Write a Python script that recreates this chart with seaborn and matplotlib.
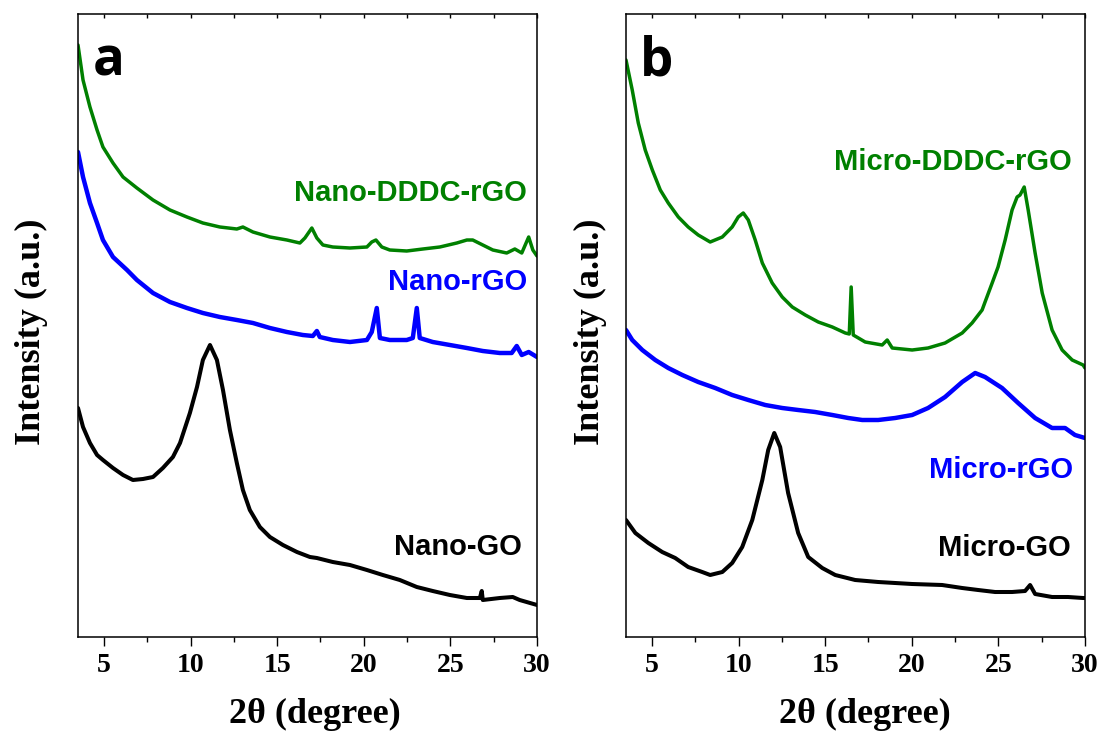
import numpy as np
import pandas as pd
import matplotlib
matplotlib.use("Agg")
import matplotlib.pyplot as plt
import seaborn as sns
from matplotlib.ticker import MultipleLocator

# ---------------- data ----------------
# Panel a
nano_dddc_x = [3.5, 3.79, 4.19, 4.60, 4.94, 5.52, 6.10, 6.90, 7.83, 8.81, 9.79, 10.71, 11.69, 12.67,
               13.02, 13.60, 14.58, 15.56, 16.31, 16.60, 17.00, 17.29, 17.64, 18.21, 19.20, 20.18,
               20.46, 20.70, 21.04, 21.50, 22.48, 23.41, 24.39, 25.37, 25.95, 26.29, 26.87, 27.45,
               28.25, 28.72, 29.12, 29.52, 29.76, 30.0]
nano_dddc_y = [592, 557, 530, 507, 490, 474, 460, 449, 437, 427, 420, 414, 410, 408,
               410, 405, 400, 397, 394, 399, 409, 399, 392, 390, 389, 390,
               395, 397, 390, 387, 386, 388, 390, 394, 397, 397, 392, 387,
               384, 388, 384, 400, 387, 381]

nano_rgo_x = [3.5, 3.79, 4.19, 4.60, 4.94, 5.52, 6.33, 6.90, 7.83, 8.81, 9.79, 10.71, 11.69, 12.67,
              13.60, 14.58, 15.56, 16.48, 17.06, 17.29, 17.46, 18.21, 19.20, 20.18, 20.46, 20.75,
              20.93, 21.50, 22.48, 22.83, 23.06, 23.23, 23.98, 24.97, 25.95, 26.87, 27.85, 28.54,
              28.83, 29.12, 29.52, 30.0]
nano_rgo_y = [485, 460, 434, 414, 397, 380, 367, 357, 344, 335, 329, 324, 320, 317,
              314, 309, 305, 302, 301, 306, 300, 297, 295, 297, 305, 329,
              299, 297, 297, 299, 329, 299, 295, 292, 289, 286, 284, 284,
              291, 282, 285, 280]

nano_go_x = [3.5, 3.79, 4.19, 4.60, 4.94, 5.52, 6.10, 6.67, 7.25, 7.83, 8.40, 8.98, 9.39, 9.96,
             10.37, 10.71, 11.12, 11.52, 11.87, 12.27, 12.67, 13.02, 13.42, 14.00, 14.58, 15.33,
             16.14, 16.89, 17.29, 18.21, 19.20, 20.18, 21.10, 22.08, 23.06, 23.98, 24.97, 25.95,
             26.70, 26.81, 26.87, 27.85, 28.60, 29.00, 30.0]
nano_go_y = [229, 210, 194, 182, 177, 169, 162, 157, 158, 160, 169, 180, 194, 224,
             250, 277, 292, 277, 247, 207, 174, 147, 127, 110, 100, 92,
             85, 80, 79, 75, 72, 67, 62, 57, 50, 46, 42, 39,
             39, 46, 37, 39, 40, 37, 32]

# Panel b
micro_dddc_x = [3.5, 3.86, 4.21, 4.61, 5.02, 5.48, 5.94, 6.52, 7.09, 7.67, 8.36, 9.06, 9.63, 9.98,
                10.27, 10.56, 10.96, 11.37, 11.94, 12.52, 13.10, 13.85, 14.60, 15.41, 16.16, 16.39,
                16.50, 16.62, 17.31, 18.29, 18.58, 18.87, 20.02, 20.94, 21.92, 22.91, 23.48, 24.06,
                24.23, 24.64, 24.98, 25.39, 25.79, 26.08, 26.25, 26.49, 26.72, 27.12, 27.53, 28.10,
                28.68, 29.26, 29.89, 30.0]
micro_dddc_y = [577, 547, 514, 487, 467, 447, 434, 420, 410, 402, 395, 400, 410, 420,
                424, 417, 397, 374, 354, 340, 330, 322, 315, 310, 304, 303,
                350, 302, 295, 292, 297, 289, 287, 289, 294, 304, 314, 327,
                335, 354, 370, 397, 427, 440, 442, 450, 427, 384, 344, 307,
                287, 277, 272, 269]

micro_rgo_x = [3.5, 3.86, 4.44, 5.19, 5.94, 6.75, 7.67, 8.65, 9.63, 10.56, 11.54, 12.52, 13.44,
               14.42, 15.41, 16.33, 17.14, 18.06, 19.04, 20.02, 20.94, 21.92, 22.91, 23.66, 24.23,
               25.21, 26.14, 27.12, 28.10, 28.85, 29.42, 30.0]
micro_rgo_y = [307, 297, 287, 277, 269, 262, 255, 249, 242, 237, 232, 229, 227,
               225, 222, 219, 217, 217, 219, 222, 229, 240, 255, 264, 260,
               249, 234, 219, 209, 209, 202, 199]

micro_go_x = [3.5, 4.04, 4.79, 5.59, 6.34, 7.09, 7.90, 8.36, 9.06, 9.63, 10.21, 10.79, 11.37, 11.71,
              12.06, 12.40, 12.86, 13.44, 14.02, 14.83, 15.58, 16.73, 18.06, 19.04, 20.02, 21.75,
              22.91, 23.83, 24.81, 25.79, 26.54, 26.83, 27.12, 28.10, 29.02, 29.89, 30.0]
micro_go_y = [117, 104, 94, 85, 79, 70, 65, 62, 65, 74, 90, 117, 157, 187,
              204, 190, 144, 104, 80, 69, 62, 57, 55, 54, 53, 52,
              49, 47, 45, 45, 46, 52, 43, 40, 40, 39, 39]

xticks = [5, 10, 15, 20, 25, 30]

GREEN = "#008000"
BLUE = "#0000FF"
BLACK = "#000000"

# ---------------- figure ----------------
sns.set_theme(style="ticks")
plt.rcParams["font.family"] = ["Liberation Serif", "DejaVu Serif"]
plt.rcParams["axes.linewidth"] = 1.1
plt.rcParams["text.color"] = "black"
plt.rcParams["axes.labelcolor"] = "black"
plt.rcParams["xtick.color"] = "black"
plt.rcParams["xtick.labelcolor"] = "black"
plt.rcParams["axes.edgecolor"] = "black"

fig = plt.figure(figsize=(11.06, 7.36), dpi=100)
ax_a = fig.add_axes([78 / 1106, 1 - 637 / 736, 459 / 1106, 623 / 736])
ax_b = fig.add_axes([626 / 1106, 1 - 637 / 736, 459 / 1106, 623 / 736])

panels = [
    (ax_a, [(nano_go_x, nano_go_y, BLACK, 2.9),
            (nano_rgo_x, nano_rgo_y, BLUE, 3.2),
            (nano_dddc_x, nano_dddc_y, GREEN, 2.5)]),
    (ax_b, [(micro_go_x, micro_go_y, BLACK, 2.9),
            (micro_rgo_x, micro_rgo_y, BLUE, 3.2),
            (micro_dddc_x, micro_dddc_y, GREEN, 2.5)]),
]

for ax, series in panels:
    for xs, ys, col, lw in series:
        df = pd.DataFrame({"x": xs, "y": ys})
        sns.lineplot(data=df, x="x", y="y", ax=ax, color=col, lw=lw,
                     estimator=None, sort=False)
    ax.set_xlim(3.5, 30)
    ax.set_ylim(0, 623)
    ax.set_yticks([])
    ax.set_xticks(xticks)
    ax.xaxis.set_minor_locator(MultipleLocator(2.5))
    ax.tick_params(axis="x", which="major", direction="out", length=6.5, width=1.0,
                   labelsize=20, pad=5, top=True, color="black", labelcolor="black")
    ax.tick_params(axis="x", which="minor", direction="out", length=3.8, width=1.0,
                   top=True, color="black")
    for lab in ax.get_xticklabels():
        lab.set_fontweight("bold")
    for sp in ax.spines.values():
        sp.set_color("black")
        sp.set_linewidth(1.1)
    ax.set_xlabel("2θ (degree)", fontsize=26, fontweight="bold", color="black")
    ax.set_ylabel("Intensity (a.u.)", fontsize=26, fontweight="bold", color="black")

# top ticks pointing inward and small
for ax in (ax_a, ax_b):
    for t in ax.xaxis.get_major_ticks() + ax.xaxis.get_minor_ticks():
        t.tick2line.set_markersize(3)
        t.tick2line.set_marker(3)

ax_a.yaxis.set_label_coords(-0.066, 0.49)
ax_b.yaxis.set_label_coords(-0.042, 0.49)
ax_a.xaxis.set_label_coords(0.516, -0.098)
ax_b.xaxis.set_label_coords(0.52, -0.098)

lab_kw = dict(fontsize=21, fontweight="bold", family=["Liberation Sans", "DejaVu Sans"],
              ha="right", va="center")
ax_a.text(29.41, 444, "Nano-DDDC-rGO", color=GREEN, **lab_kw)
ax_a.text(29.41, 355, "Nano-rGO", color=BLUE, **lab_kw)
ax_a.text(29.12, 90, "Nano-GO", color=BLACK, **lab_kw)
ax_b.text(29.25, 475, "Micro-DDDC-rGO", color=GREEN, **lab_kw)
ax_b.text(29.31, 167, "Micro-rGO", color=BLUE, **lab_kw)
ax_b.text(29.19, 89, "Micro-GO", color=BLACK, **lab_kw)

let_kw = dict(fontsize=38, fontweight="bold", family=["Open Sans", "DejaVu Sans"],
              ha="left", va="baseline", color="black")
ax_a.text(4.37, 562, "a", **let_kw)
ax_b.text(4.32, 561, "b", **let_kw)

fig.savefig("out.png", dpi=100)
